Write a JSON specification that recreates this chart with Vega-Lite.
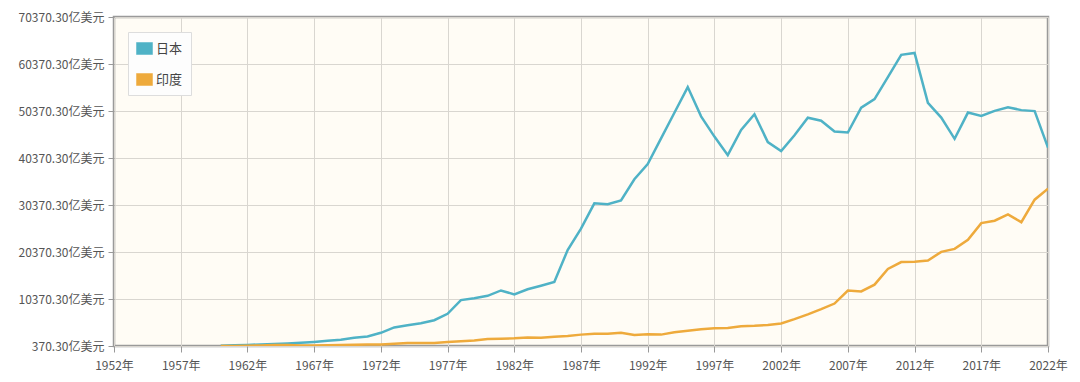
{
  "$schema": "https://vega.github.io/schema/vega-lite/v6.json",
  "width": 934,
  "height": 329,
  "autosize": {"type": "none"},
  "padding": {"left": 114, "top": 17, "right": 32, "bottom": 36},
  "background": "#ffffff",
  "config": {
    "view": {"fill": "#fffcf5", "stroke": "#9a9a9a", "strokeWidth": 2.5},
    "axis": {
      "labelFont": "Noto Sans CJK SC",
      "labelFontSize": 12,
      "labelColor": "#555555",
      "gridColor": "#d9d6d0",
      "gridWidth": 1,
      "tickColor": "#999999",
      "tickSize": 6,
      "domain": false,
      "labelFlush": false,
      "title": null
    }
  },
  "data": {
    "values": [
      {"year": 1960, "日本": 443.1, "印度": 370.3},
      {"year": 1961, "日本": 535.1, "印度": 392.3},
      {"year": 1962, "日本": 607.2, "印度": 421.6},
      {"year": 1963, "日本": 695.0, "印度": 484.2},
      {"year": 1964, "日本": 817.5, "印度": 564.8},
      {"year": 1965, "日本": 910.6, "印度": 595.5},
      {"year": 1966, "日本": 1056.3, "印度": 458.7},
      {"year": 1967, "日本": 1238.2, "印度": 501.3},
      {"year": 1968, "日本": 1466.0, "印度": 530.9},
      {"year": 1969, "日本": 1721.9, "印度": 584.5},
      {"year": 1970, "日本": 2126.1, "印度": 624.2},
      {"year": 1971, "日本": 2402.3, "印度": 673.5},
      {"year": 1972, "日本": 3180.3, "印度": 714.6},
      {"year": 1973, "日本": 4321.0, "印度": 855.2},
      {"year": 1974, "日本": 4796.3, "印度": 995.3},
      {"year": 1975, "日本": 5215.4, "印度": 984.7},
      {"year": 1976, "日本": 5862.1, "印度": 1027.2},
      {"year": 1977, "日本": 7214.1, "印度": 1214.9},
      {"year": 1978, "日本": 10135.7, "印度": 1373.0},
      {"year": 1979, "日本": 10550.1, "印度": 1529.9},
      {"year": 1980, "日本": 11053.9, "印度": 1863.3},
      {"year": 1981, "日本": 12189.9, "印度": 1934.9},
      {"year": 1982, "日本": 11345.2, "印度": 2007.2},
      {"year": 1983, "日本": 12433.2, "印度": 2182.6},
      {"year": 1984, "日本": 13183.8, "印度": 2121.6},
      {"year": 1985, "日本": 13988.9, "印度": 2325.1},
      {"year": 1986, "日本": 20787.9, "印度": 2489.9},
      {"year": 1987, "日本": 25327.9, "印度": 2790.3},
      {"year": 1988, "日本": 30717.0, "印度": 2965.9},
      {"year": 1989, "日本": 30549.1, "印度": 2960.4},
      {"year": 1990, "日本": 31328.2, "印度": 3209.8},
      {"year": 1991, "日本": 35843.4, "印度": 2701.1},
      {"year": 1992, "日本": 39088.1, "印度": 2882.1},
      {"year": 1993, "日本": 44541.4, "印度": 2793.0},
      {"year": 1994, "日本": 49987.9, "印度": 3272.8},
      {"year": 1995, "日本": 55456.3, "印度": 3602.8},
      {"year": 1996, "日本": 49233.9, "印度": 3929.0},
      {"year": 1997, "日本": 44923.9, "印度": 4158.7},
      {"year": 1998, "日本": 40983.6, "印度": 4213.5},
      {"year": 1999, "日本": 46359.8, "印度": 4588.2},
      {"year": 2000, "日本": 49683.6, "印度": 4683.9},
      {"year": 2001, "日本": 43746.9, "印度": 4854.4},
      {"year": 2002, "日本": 41827.5, "印度": 5149.4},
      {"year": 2003, "日本": 45195.6, "印度": 6077.0},
      {"year": 2004, "日本": 48931.4, "印度": 7091.5},
      {"year": 2005, "日本": 48314.7, "印度": 8203.8},
      {"year": 2006, "日本": 46017.2, "印度": 9402.6},
      {"year": 2007, "日本": 45797.5, "印度": 12167.4},
      {"year": 2008, "日本": 51067.8, "印度": 11989.0},
      {"year": 2009, "日本": 52894.9, "印度": 13418.9},
      {"year": 2010, "日本": 57591.1, "印度": 16756.2},
      {"year": 2011, "日本": 62331.5, "印度": 18230.5},
      {"year": 2012, "日本": 62724.2, "印度": 18276.4},
      {"year": 2013, "日本": 52122.8, "印度": 18567.2},
      {"year": 2014, "日本": 48969.9, "印度": 20391.3},
      {"year": 2015, "日本": 44449.3, "印度": 21035.9},
      {"year": 2016, "日本": 50036.8, "印度": 22948.0},
      {"year": 2017, "日本": 49308.4, "印度": 26514.7},
      {"year": 2018, "日本": 50409.4, "印度": 27029.3},
      {"year": 2019, "日本": 51179.9, "印度": 28356.1},
      {"year": 2020, "日本": 50556.4, "印度": 26716.0},
      {"year": 2021, "日本": 50346.2, "印度": 31503.1},
      {"year": 2022, "日本": 42564.1, "印度": 33850.9}
    ]
  },
  "transform": [
    {"fold": ["日本", "印度"], "as": ["country", "value"]}
  ],
  "mark": {"type": "line", "strokeWidth": 2.5, "clip": true},
  "encoding": {
    "x": {
      "field": "year",
      "type": "quantitative",
      "scale": {"domain": [1952, 2022], "nice": false, "zero": false},
      "axis": {
        "values": [1952, 1957, 1962, 1967, 1972, 1977, 1982, 1987, 1992, 1997, 2002, 2007, 2012, 2017, 2022],
        "labelExpr": "datum.value + '年'",
        "labelPadding": 8,
        "tickSize": 6
      }
    },
    "y": {
      "field": "value",
      "type": "quantitative",
      "scale": {"domain": [370.3, 70370.3], "nice": false, "zero": false},
      "axis": {
        "values": [370.3, 10370.3, 20370.3, 30370.3, 40370.3, 50370.3, 60370.3, 70370.3],
        "labelExpr": "format(datum.value, '.2f') + '亿美元'",
        "labelPadding": 4,
        "tickSize": 6
      }
    },
    "color": {
      "field": "country",
      "type": "nominal",
      "sort": ["日本", "印度"],
      "scale": {"domain": ["日本", "印度"], "range": ["#4fb2c6", "#eeaa3c"]},
      "legend": {
        "title": null,
        "orient": "none",
        "legendX": 14,
        "legendY": 15,
        "direction": "vertical",
        "fillColor": "#fdfdfd",
        "strokeColor": "#dddddd",
        "padding": 8,
        "rowPadding": 15,
        "symbolType": "M-1,-0.75L1,-0.75L1,0.75L-1,0.75Z",
        "symbolSize": 256,
        "symbolStrokeWidth": 0.5,
        "symbolOpacity": 1,
        "labelFont": "Noto Sans CJK SC",
        "labelFontSize": 13,
        "labelColor": "#444444",
        "labelOffset": 3,
        "encode": {
          "symbols": {
            "update": {
              "fill": {"scale": "color", "field": "value"},
              "stroke": {"value": "#cccccc"}
            }
          }
        }
      }
    }
  }
}
